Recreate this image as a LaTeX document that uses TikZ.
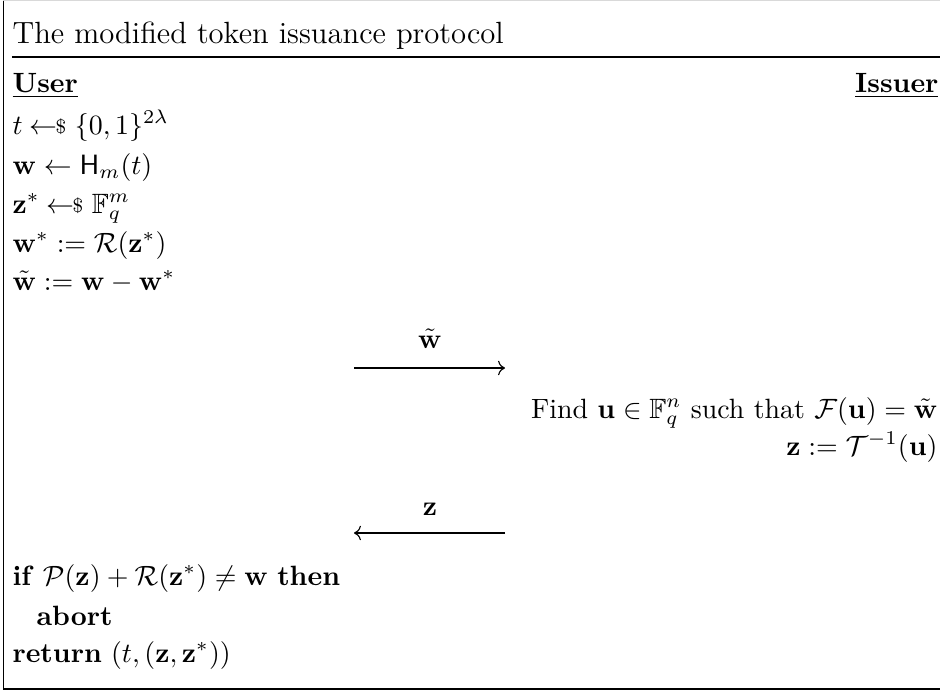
\documentclass[tikz,border=0pt]{standalone}
\usepackage{amsmath,amssymb}
\usetikzlibrary{arrows.meta}
\newcommand{\smp}{\hskip2.3pt{\gets\!\!\raisebox{0.25pt}{\scriptsize\$}}\hskip3pt}

\begin{document}
\begin{tikzpicture}[x=0.3584pt,y=-0.3584pt,
  l/.style={anchor=base west,inner sep=0pt},
  r/.style={anchor=base east,inner sep=0pt},
  msg/.style={anchor=base,inner sep=0pt}]
\useasboundingbox (0,0) rectangle (940,691);
\draw[gray!30] (3.5,0.6) -- (940,0.6);
\draw (3.5,0.6) -- (3.5,689) -- (940,689);
\node[l,font=\fontsize{11}{13.6}\selectfont] (title) at (12,43) {The modified token issuance protocol};
\draw (12,57) -- (940,57);
\node[l] (user) at (12,92) {\underline{\textbf{User}}};
\node[r] (issuer) at (939,92) {\underline{\textbf{Issuer}}};
% user, first part
\node[l] (u1) at (12,134) {$t \smp \{0,1\}^{2\lambda}$};
\node[l] (u2) at (12,174) {$\mathbf{w} \gets \mathsf{H}_m(t)$};
\node[l] (u3) at (12,213) {$\mathbf{z}^* \smp \mathbb{F}_q^m$};
\node[l] (u4) at (12,252) {$\mathbf{w}^* := \mathcal{R}(\mathbf{z}^*)$};
\node[l] (u5) at (12,290) {$\tilde{\mathbf{w}} := \mathbf{w} - \mathbf{w}^*$};
% first message
\coordinate (m1a) at (354,368);
\coordinate (m1b) at (505,368);
\node[msg] (m1) at (430,348) {$\tilde{\mathbf{w}}$};
\draw[->] (m1a) -- (m1b);
% issuer
\node[r] (i1) at (938,418) {Find $\mathbf{u} \in \mathbb{F}_q^n$ such that $\mathcal{F}(\mathbf{u}) = \tilde{\mathbf{w}}$};
\node[r] (i2) at (938,455) {$\mathbf{z} := \mathcal{T}^{-1}(\mathbf{u})$};
% second message
\coordinate (m2a) at (505,533);
\coordinate (m2b) at (354,533);
\node[msg] (m2) at (430,515) {$\mathbf{z}$};
\draw[->] (m2a) -- (m2b);
% user, checks
\node[l] (u6) at (12,585) {\textbf{if} $\mathcal{P}(\mathbf{z}) + \mathcal{R}(\mathbf{z}^*) \neq \mathbf{w}$ \textbf{then}};
\node[l] (u7) at (36,625) {\textbf{abort}};
\node[l] (u8) at (12,662) {\textbf{return} $(t,(\mathbf{z},\mathbf{z}^*))$};
\end{tikzpicture}
\end{document}
